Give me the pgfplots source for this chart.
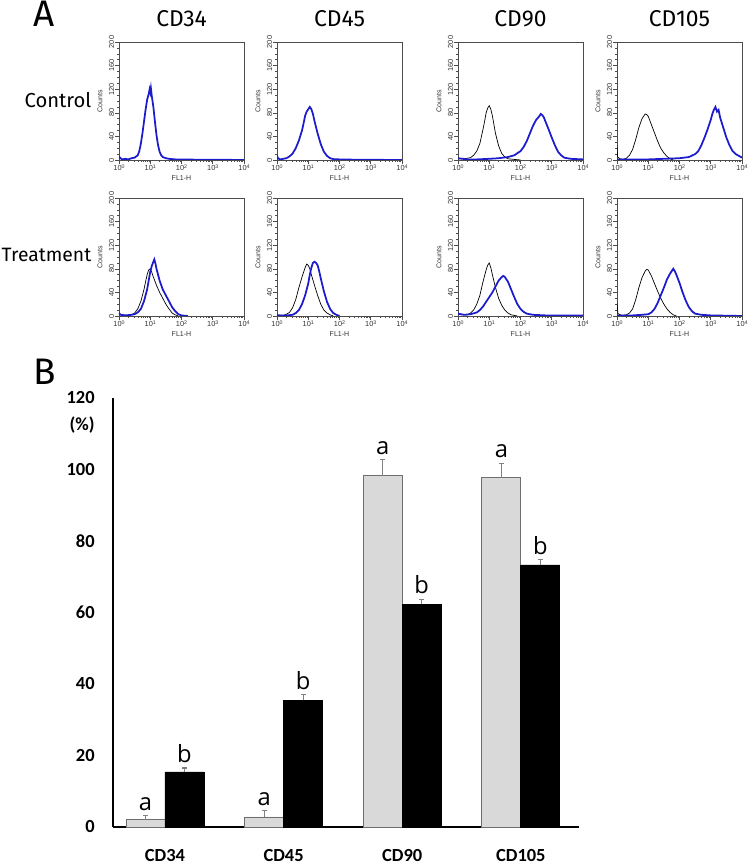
\documentclass[border=0pt]{standalone}
\usepackage{fontspec}
\setmainfont{Carlito}
\newfontfamily\headfont{Fira Sans}
\newfontfamily\smallfont{Liberation Sans}
\newfontfamily\letterfont{Open Sans}
\usepackage{pgfplots}
\pgfplotsset{compat=1.18}

\definecolor{fblue}{RGB}{28,28,205}
\definecolor{barfill}{RGB}{217,217,217}
\definecolor{baredge}{RGB}{110,110,110}

\tikzset{letter/.style={anchor=south, inner sep=0pt, yshift=0.1cm, font=\letterfont\fontsize{13.5}{14}\selectfont}}
\newcommand{\dec}[1]{10\raisebox{1.1pt}{\fontsize{3}{3.5}\selectfont #1}}

\pgfplotsset{
  hist/.style={
    scale only axis, width=2.5cm, height=2.36cm,
    anchor=south west,
    xmin=0, xmax=4, ymin=0, ymax=200,
    xtick={0,1,2,3,4},
    xticklabels={\dec{0},\dec{1},\dec{2},\dec{3},\dec{4}},
    minor xtick={0.301,0.477,0.602,0.699,0.778,0.845,0.903,0.954,
                 1.301,1.477,1.602,1.699,1.778,1.845,1.903,1.954,
                 2.301,2.477,2.602,2.699,2.778,2.845,2.903,2.954,
                 3.301,3.477,3.602,3.699,3.778,3.845,3.903,3.954},
    ytick={0,40,...,200}, minor y tick num=3,
    tick align=outside, tick pos=left,
    major tick length=2pt, minor tick length=1pt,
    every tick/.style={black!70, line width=0.3pt},
    axis line style={black!70, line width=0.5pt},
    /pgf/number format/assume math mode=true,
    tick label style={font=\smallfont\fontsize{4.2}{5}\selectfont, inner sep=0.6pt, black!80},
    yticklabel style={rotate=90, anchor=south},
    xlabel={FL1-H}, ylabel={Counts},
    label style={font=\smallfont\fontsize{4}{5}\selectfont, black!80},
    xlabel style={at={(axis description cs:0.5,0)}, anchor=center, yshift=-0.36cm, inner sep=0pt},
    ylabel style={at={(axis description cs:0,0.5)}, anchor=center, rotate=0, yshift=0.38cm, inner sep=0pt},
    title style={font=\headfont\fontsize{13}{14}\selectfont, anchor=base, at={(0.5,1)}, yshift=0.1cm},
  },
  iso/.style={black, line width=0.4pt},
  pos/.style={fblue, line width=1pt},
}

\begin{document}
\begin{tikzpicture}
\path[use as bounding box] (0,0) rectangle (15,17.28);

\node[font=\headfont\fontsize{21}{22}\selectfont] at (0.88,17.0) {A};
\node[font=\headfont\fontsize{21}{22}\selectfont] at (0.9,9.84) {B};
\node[font=\headfont\fontsize{11.5}{12}\selectfont] at (1.16,15.28) {Control};
\node[font=\headfont\fontsize{11}{12}\selectfont] at (0.93,12.18) {Treatment};

% ---- row 1: control ----
\begin{axis}[hist, at={(2.38cm,14.08cm)}, title=CD34]
\addplot[pos] coordinates {(0,6) (0.05,3) (0.1,1) (0.2,2) (0.3,1) (0.4,3) (0.5,4) (0.6,8) (0.65,15) (0.7,28) (0.75,45) (0.8,65) (0.85,85) (0.9,102) (0.95,112) (0.98,120) (1.0,115) (1.02,122) (1.05,108) (1.1,90) (1.15,65) (1.2,42) (1.25,25) (1.3,14) (1.35,8) (1.4,5) (1.5,3) (1.6,2) (1.8,1) (2.0,1) (2.5,0.5) (3.0,0.5) (4,0)};
\end{axis}

\begin{axis}[hist, at={(5.54cm,14.08cm)}, title=CD45]
\addplot[pos] coordinates {(0,8) (0.03,3) (0.1,1) (0.2,2) (0.3,3) (0.4,6) (0.5,11) (0.6,20) (0.7,33) (0.8,50) (0.85,62) (0.9,75) (0.95,82) (1.0,86) (1.05,90) (1.1,86) (1.15,78) (1.2,66) (1.3,45) (1.4,27) (1.5,14) (1.6,7) (1.7,3) (1.8,1.5) (2.0,1) (2.5,0.5) (4,0)};
\end{axis}

\begin{axis}[hist, at={(9.16cm,14.08cm)}, title=CD90]
\addplot[iso] coordinates {(0,2) (0.2,2) (0.4,4) (0.5,8) (0.6,15) (0.7,28) (0.8,52) (0.85,65) (0.9,80) (0.95,88) (1.0,92) (1.05,86) (1.1,75) (1.15,60) (1.2,45) (1.3,24) (1.4,11) (1.5,5) (1.6,2) (1.8,1) (2,0)};
\addplot[pos] coordinates {(0,3) (0.3,1) (0.6,1) (1.0,2) (1.3,3) (1.6,5) (1.8,8) (2.0,15) (2.1,22) (2.2,32) (2.3,45) (2.4,58) (2.5,68) (2.6,74) (2.65,78) (2.7,76) (2.75,72) (2.8,65) (2.9,52) (3.0,38) (3.1,25) (3.2,14) (3.3,8) (3.4,4) (3.6,2) (4,1)};
\end{axis}

\begin{axis}[hist, at={(12.34cm,14.08cm)}, title=CD105]
\addplot[iso] coordinates {(0,25) (0.02,5) (0.1,2) (0.2,1) (0.3,3) (0.4,8) (0.5,18) (0.6,35) (0.7,55) (0.8,70) (0.9,78) (0.95,77) (1.0,74) (1.1,60) (1.2,46) (1.3,32) (1.4,20) (1.5,12) (1.6,6) (1.7,2) (1.8,0)};
\addplot[pos] coordinates {(0,1) (1.0,1) (1.5,2) (2.0,3) (2.3,5) (2.5,10) (2.6,15) (2.7,25) (2.8,38) (2.9,52) (3.0,68) (3.05,78) (3.1,85) (3.15,90) (3.2,82) (3.25,85) (3.3,72) (3.4,55) (3.5,38) (3.6,25) (3.7,15) (3.8,10) (3.9,7) (4,4)};
\end{axis}

% ---- row 2: treatment ----
\begin{axis}[hist, at={(2.38cm,10.96cm)}]
\addplot[iso] coordinates {(0,3) (0.2,1) (0.4,2) (0.5,5) (0.6,12) (0.7,25) (0.8,45) (0.85,58) (0.9,70) (0.95,78) (1.0,80) (1.05,74) (1.1,66) (1.2,52) (1.3,40) (1.4,30) (1.5,20) (1.6,12) (1.7,5) (1.8,2) (1.9,0)};
\addplot[pos] coordinates {(0,5) (0.05,2) (0.2,1) (0.4,2) (0.5,3) (0.6,6) (0.7,12) (0.8,25) (0.9,45) (0.95,60) (1.0,75) (1.05,85) (1.1,92) (1.13,96) (1.17,88) (1.2,80) (1.3,60) (1.4,45) (1.5,35) (1.6,25) (1.7,15) (1.8,8) (1.9,3) (2.0,1) (2.2,0)};
\end{axis}

\begin{axis}[hist, at={(5.54cm,10.96cm)}]
\addplot[iso] coordinates {(0,2) (0.2,1) (0.3,3) (0.4,6) (0.5,14) (0.6,28) (0.7,48) (0.8,66) (0.9,82) (0.95,88) (1.0,86) (1.05,80) (1.1,70) (1.2,52) (1.3,35) (1.4,20) (1.5,10) (1.6,5) (1.7,2) (1.8,0)};
\addplot[pos] coordinates {(0,1) (0.3,1) (0.5,2) (0.6,5) (0.7,10) (0.8,20) (0.9,35) (1.0,55) (1.05,70) (1.1,82) (1.15,90) (1.2,92) (1.25,90) (1.3,86) (1.35,76) (1.4,64) (1.5,42) (1.6,24) (1.7,12) (1.8,5) (1.9,2) (2.0,0)};
\end{axis}

\begin{axis}[hist, at={(9.16cm,10.96cm)}]
\addplot[iso] coordinates {(0,5) (0.1,2) (0.3,2) (0.4,5) (0.5,10) (0.6,20) (0.7,35) (0.8,58) (0.9,78) (0.95,86) (1.0,90) (1.05,82) (1.1,70) (1.2,48) (1.3,30) (1.4,18) (1.5,10) (1.6,5) (1.7,2) (1.9,0)};
\addplot[pos] coordinates {(0,4) (0.2,2) (0.4,3) (0.6,6) (0.7,10) (0.8,16) (0.9,24) (1.0,32) (1.1,40) (1.2,50) (1.3,60) (1.4,66) (1.45,68) (1.5,66) (1.6,58) (1.7,45) (1.8,32) (1.9,20) (2.0,12) (2.1,7) (2.2,4) (2.4,2) (2.8,1) (3.5,1) (4,1)};
\end{axis}

\begin{axis}[hist, at={(12.34cm,10.96cm)}]
\addplot[iso] coordinates {(0,22) (0.03,4) (0.15,1) (0.3,2) (0.4,5) (0.5,12) (0.6,28) (0.7,48) (0.8,65) (0.9,76) (0.95,79) (1.0,78) (1.1,68) (1.2,55) (1.3,42) (1.4,30) (1.5,20) (1.6,12) (1.7,6) (1.8,2) (1.9,0)};
\addplot[pos] coordinates {(0,1) (0.5,1) (0.8,2) (1.0,3) (1.1,6) (1.2,12) (1.3,22) (1.4,35) (1.5,48) (1.6,62) (1.7,72) (1.8,80) (1.85,76) (1.9,70) (2.0,56) (2.1,40) (2.2,26) (2.3,15) (2.4,8) (2.5,4) (2.7,2) (3.0,1) (4,0)};
\end{axis}

% ---- panel B: bar chart ----
\begin{axis}[
    at={(2.26cm,0.74cm)}, anchor=south west,
    scale only axis, width=9.32cm, height=8.58cm,
    clip=false,
    xmin=-0.438, xmax=3.49, ymin=0, ymax=120,
    axis x line*=bottom, axis y line*=left,
    axis line style={line width=1.1pt, black},
    ybar=0pt, bar width=0.78cm,
    xtick={0,1,2,3}, xticklabels={CD34,CD45,CD90,CD105},
    ytick={0,20,...,120},
    major tick length=0pt,
    tick label style={font=\bfseries\fontsize{10.5}{12}\selectfont},
    /pgf/number format/assume math mode=true,
    xticklabel style={anchor=north, inner sep=0pt}, xticklabel shift=0.44cm,
    yticklabel style={anchor=east, inner sep=0pt}, yticklabel shift=0.36cm,
]
\addplot[fill=barfill, draw=baredge, line width=0.5pt,
  error bars/.cd, y dir=plus, y explicit,
  error bar style={line width=0.6pt, gray},
  error mark options={rotate=90, mark size=1.4pt, line width=0.6pt, gray}]
  coordinates {(0,2.0) +- (0,1.1) (1,2.8) +- (0,1.7) (2,98.3) +- (0,4.4) (3,97.7) +- (0,4.0)};
\addplot[fill=black, draw=black, line width=0.5pt,
  error bars/.cd, y dir=plus, y explicit,
  error bar style={line width=0.6pt, gray},
  error mark options={rotate=90, mark size=1.4pt, line width=0.6pt, gray}]
  coordinates {(0,15.4) +- (0,1.1) (1,35.5) +- (0,1.5) (2,62.3) +- (0,1.4) (3,73.3) +- (0,1.4)};
\node[letter] at (axis cs:-0.164,3.1) {a};
\node[letter] at (axis cs:0.164,16.5) {b};
\node[letter] at (axis cs:0.836,4.5) {a};
\node[letter] at (axis cs:1.164,37.0) {b};
\node[letter] at (axis cs:1.836,102.7) {a};
\node[letter] at (axis cs:2.164,63.7) {b};
\node[letter] at (axis cs:2.836,101.7) {a};
\node[letter] at (axis cs:3.164,74.7) {b};
\node[anchor=east, inner sep=0pt, xshift=-0.36cm, yshift=-0.54cm,
  font=\bfseries\fontsize{10.5}{12}\selectfont] at (axis cs:-0.438,120) {(\%)};
\end{axis}
\end{tikzpicture}
\end{document}
